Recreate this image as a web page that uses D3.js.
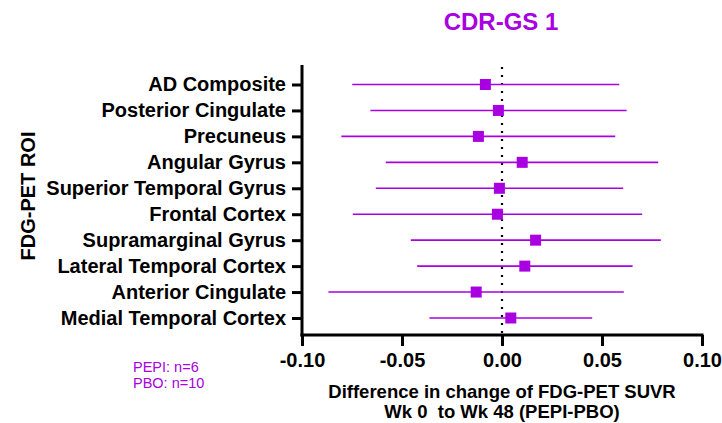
<!DOCTYPE html>
<html>
<head>
<meta charset="utf-8">
<script src="https://cdn.jsdelivr.net/npm/d3@7"></script>
<style>
  body { margin: 0; background: #fff; }
  svg text { font-family: Arial, "Liberation Sans", sans-serif; }
</style>
</head>
<body>
<svg id="forest" width="722" height="423"></svg>
<script>
// ROI rows, top to bottom
var rois = ["AD Composite", "Posterior Cingulate", "Precuneus", "Angular Gyrus",
  "Superior Temporal Gyrus", "Frontal Cortex", "Supramarginal Gyrus",
  "Lateral Temporal Cortex", "Anterior Cingulate", "Medial Temporal Cortex"];
// difference (PEPI-PBO) and its interval
var means = [-0.0083, -0.0018, -0.0118, 0.0101, -0.0013, -0.0023, 0.0168, 0.0114, -0.0129, 0.0044];
var lower = [-0.0749, -0.0658, -0.0803, -0.0581, -0.0631, -0.0746, -0.0456, -0.0424, -0.0868, -0.0363];
var upper = [0.0586, 0.0623, 0.0566, 0.0781, 0.0606, 0.0701, 0.0794, 0.0653, 0.0609, 0.0451];
var xTicks = [-0.10, -0.05, 0.00, 0.05, 0.10];
var groupNotes = ["PEPI: n=6", "PBO: n=10"];

var purple = "#a800e0";

var svg = d3.select("#forest");

var x = d3.scaleLinear().domain([-0.1, 0.1]).range([302, 702]);
var y = d3.scalePoint().domain(rois).range([84.5, 318]);
var axisTop = 65, axisBottom = 335;

var rows = rois.map(function(r, i) {
  return {roi: r, mean: means[i], lo: lower[i], hi: upper[i]};
});

// zero reference line (dotted)
svg.append("line")
  .attr("x1", x(0)).attr("x2", x(0))
  .attr("y1", axisTop + 2).attr("y2", axisBottom)
  .attr("stroke", "#000")
  .attr("stroke-width", 2.2)
  .attr("stroke-dasharray", "2,6");

// intervals
svg.selectAll(".ci").data(rows).enter().append("line")
  .attr("class", "ci")
  .attr("x1", function(d) { return x(d.lo); })
  .attr("x2", function(d) { return x(d.hi); })
  .attr("y1", function(d) { return y(d.roi); })
  .attr("y2", function(d) { return y(d.roi); })
  .attr("stroke", purple)
  .attr("stroke-width", 1.6);

// point estimates
var sz = 11;
svg.selectAll(".pt").data(rows).enter().append("rect")
  .attr("class", "pt")
  .attr("x", function(d) { return x(d.mean) - sz / 2; })
  .attr("y", function(d) { return y(d.roi) - sz / 2; })
  .attr("width", sz).attr("height", sz)
  .attr("fill", purple);

// x axis
var fmt = function(v) { return d3.format(".2f")(v).replace("\u2212", "-"); };
var gx = svg.append("g")
  .attr("transform", "translate(0," + axisBottom + ")")
  .call(d3.axisBottom(x).tickValues(xTicks).tickFormat(fmt).tickSize(11).tickSizeOuter(0).tickPadding(7));
gx.select(".domain").attr("stroke-width", 3).attr("d", "M" + (x(-0.1) - 1.5) + ",0H" + (x(0.1) + 1.5));
gx.selectAll(".tick line").attr("stroke-width", 3);
gx.selectAll(".tick text")
  .attr("font-size", 20).attr("font-weight", "bold").attr("fill", "#000")
  .style("font-family", "Arial, 'Liberation Sans', sans-serif");

// y axis
var gy = svg.append("g")
  .attr("transform", "translate(" + x(-0.1) + ",0)")
  .call(d3.axisLeft(y).tickSize(10).tickSizeOuter(0).tickPadding(6));
gy.select(".domain").attr("stroke-width", 3).attr("d", "M0," + axisTop + "V" + (axisBottom + 1.5));
gy.selectAll(".tick line").attr("stroke-width", 3);
gy.selectAll(".tick text")
  .attr("font-size", 20).attr("font-weight", "bold").attr("fill", "#000")
  .style("font-family", "Arial, 'Liberation Sans', sans-serif");

// title
svg.append("text")
  .attr("x", 501).attr("y", 30)
  .attr("text-anchor", "middle")
  .attr("font-size", 24).attr("font-weight", "bold")
  .attr("fill", purple)
  .text("CDR-GS 1");

// axis titles
svg.append("text")
  .attr("x", 502).attr("y", 398)
  .attr("text-anchor", "middle")
  .attr("font-size", 18.5).attr("font-weight", "bold")
  .text("Difference in change of FDG-PET SUVR");
svg.append("text")
  .attr("x", 502).attr("y", 418)
  .attr("text-anchor", "middle")
  .attr("font-size", 18.5).attr("font-weight", "bold")
  .attr("xml:space", "preserve")
  .style("white-space", "pre")
  .text("Wk 0  to Wk 48 (PEPI-PBO)");

svg.append("text")
  .attr("transform", "translate(35,196) rotate(-90)")
  .attr("text-anchor", "middle")
  .attr("font-size", 20).attr("font-weight", "bold")
  .text("FDG-PET ROI");

// group sizes
svg.selectAll(".note").data(groupNotes).enter().append("text")
  .attr("class", "note")
  .attr("x", 133)
  .attr("y", function(d, i) { return 372 + i * 16; })
  .attr("font-size", 14.5)
  .attr("fill", purple)
  .text(function(d) { return d; });
</script>
</body>
</html>
